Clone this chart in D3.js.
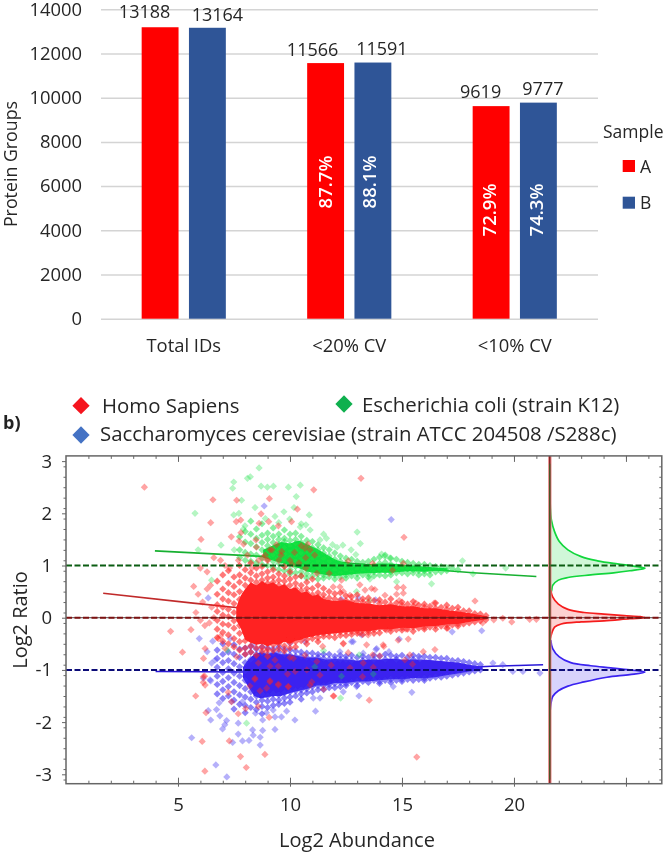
<!DOCTYPE html>
<html><head><meta charset="utf-8">
<script src="https://cdn.jsdelivr.net/npm/d3@7"></script>
<style>html,body{margin:0;padding:0;background:#fff}svg{display:block;filter:blur(.35px)}text{font-family:"Open Sans",sans-serif}</style>
</head><body><div id="c"></div>
<script>
// ---- Panel a: bars
const categories = ["Total IDs","<20% CV","<10% CV"];
const samples = ["A","B"];
const sampleA = [13188,11566,9619];
const sampleB = [13164,11591,9777];
const percentA = [null,"87.7%","72.9%"];
const percentB = [null,"88.1%","74.3%"];
const barTicks = [0,2000,4000,6000,8000,10000,12000,14000];

// ---- Panel b: points [log2 abundance, log2 ratio]
const greenPoints = [[8.62,2.87],[7.49,2.6],[7.44,2.48],[8.1,2.67],[8.23,2.7],[8.71,2.52],[8.99,2.5],[9.26,2.52],[9.93,2.5],[10.46,2.54],[7.84,2.25],[10.28,2.32],[5.76,2],[7.49,1.97],[7.72,2],[8.44,2.11],[9.33,1.94],[9.73,2.03],[10.18,2.11],[10.86,1.97],[9.99,1.89],[10.46,1.74],[10.71,1.78],[7.99,1.76],[7.92,1.7],[6.92,1.39],[7.51,1.3],
[13,1.64],[12.36,1.39],[13.14,1.42],[12.73,1.3],[12.94,1.21],[14.09,1.22],[14.24,1.17],[14.46,1.14],[13.57,.74],[14.76,.69],[16.32,.65],[12.97,.5],[13.54,.33],[11.34,1.49],[11.63,1.52],[17.7,1.09],[18.17,.84],[19.63,.95],[6.5,.72],[5.9,1.3],
[8.9,1.9],[9.5,1.82],[10.5,1.8],[10.9,1.68],[11.5,1.6],[11.9,1.4],[12.1,1.35],
[11.11,-.94],[12.3,-1.12],[13.72,-1.08],[12.26,-1.54],[13.09,-.71],[11.5,-.63],[8.06,-2.02],[7.2,-.62],[10.9,.25]];
// dense parts of each cloud, column by column: [log2 abundance, [log2 ratios]]
const greenColumns = [[7.75,[1.55,1.3,1.15]],[8,[1.65,1.45,1.25,1.1]],[8.25,[1.85,1.6,1.42,1.22,1.08]],[8.5,[1.7,1.52,1.36,1.2,1.05]],[8.75,[1.8,1.58,1.44,1.3,1.14,1.02]],[9,[1.62,1.5,1.38,1.26,1.12,1]],[9.25,[1.72,1.56,1.44,1.32,1.2,1.08,.96]],[9.5,[1.6,1.5,1.4,1.3,1.18,1.04,.92]],[9.75,[1.68,1.52,1.46,1.34,1.22,1.1,1,.9]],[10,[1.6,1.48,1.38,1.28,1.16,1.04,.92,.84]],[10.25,[1.62,1.5,1.42,1.3,1.2,1.1,.98,.86]],[10.5,[1.56,1.44,1.34,1.24,1.12,1,.88,.8]],[10.75,[1.48,1.38,1.28,1.16,1.06,.94,.84,.76]],[11,[1.46,1.34,1.24,1.14,1.02,.9,.8]],[11.25,[1.4,1.3,1.18,1.08,.96,.84,.74]],[11.5,[1.34,1.24,1.14,1.02,.9,.82,.76]],[11.75,[1.3,1.18,1.08,.98,.88,.78]],[12,[1.24,1.12,1.02,.92,.82,.74]],[12.25,[1.18,1.08,.96,.86,.78]],[12.5,[1.14,1.04,.92,.82,.76]],[12.75,[1.12,.98,.88,.8]],[13,[1.08,.94,.84,.76]],[13.25,[1.06,.92,.82]],[13.5,[1.08,.96,.84,.78]],[13.75,[1.12,1,.88,.8]],[14,[1.16,1.04,.92,.82]],[14.25,[1.2,1.06,.9,.8]],[14.5,[1.14,1.02,.88,.82]],[14.75,[1.12,.98,.86]],[15,[1.08,.96,.86]],[15.25,[1.06,.94,.84]],[15.5,[1.04,.92,.86]],[15.75,[1.02,.9,.82]],[16,[1.02,.9,.84]],[16.25,[1,.9,.82]],[16.5,[.98,.88]],[16.75,[.98,.88]],[17,[.96,.9]],[17.25,[.94]],[17.5,[.92]]];

const bluePoints = [[5.61,-2.3],[6.69,-2.82],[7.18,-3.05],[6.35,-1.78],[6.46,-1.96],[6.84,-1.63],[6.72,-1.76],[6.87,-1.88],[7.39,-1.61],[7.17,-1.97],[7.09,-2.05],[6.99,-2.13],[7.44,-2.39],[7.88,-2.36],[8.17,-2.35],[7.69,-2.23],[7.69,-2.02],[7.87,-1.61],[8.33,-2.15],[8.78,-2.16],[8.36,-2.25],[8.67,-2.29],[8.67,-2.44],[9.33,-2.14],[8.78,-1.96],[8.46,-1.83],[8.95,-1.82],[9.33,-1.9],[9.62,-1.9],[9.85,-1.79],[10.22,-1.96],[9.25,-1.77],[6.46,-1.21],[6.13,-1.16],[6.5,-.87],
[6.55,-.45],[7.33,-.4],[6.66,-.81],[6.43,-1.19],[8.37,-.52],[9.11,-.46],[10,-.49],[10.67,-.46],[5.95,-.4],[8.85,2.14],[6.35,.38],[6.3,-.65],
[12.82,-.46],[13.84,-.61],[14.42,-.65],[13.27,-.68],[15.8,-.78],[12.23,-.65],[14.61,-1.32],[15.44,-1.43],[13.08,-1.5],[11.14,-1.79],[12.97,-1.32],[12.38,-1.42],[11.34,-1.54],[11.04,-1.54],[12.3,.35],[13.05,.38],[13.82,.34],[12.75,-.46],[14.88,-.41],[13.2,-.33],[13.87,-.59],[14.52,1.88],[17.24,-.27],[18.56,-.25],[19.06,-.87],[19.95,-1.03],[21.16,-1.06],[20.4,-1.03],[19.5,-.9]];
const blueColumns = [[6.75,[-.62,-.78,-.95,-1.12,-1.28,-1.46]],[7,[-.5,-.7,-.86,-1.05,-1.22,-1.38,-1.55]],[7.25,[-.66,-.82,-.98,-1.15,-1.32,-1.5]],[7.5,[-.52,-.7,-.88,-1.06,-1.24,-1.42,-1.58,-1.75]],[7.75,[-.6,-.76,-.94,-1.12,-1.3,-1.48,-1.66]],[8,[-.58,-.7,-.86,-1.02,-1.2,-1.36,-1.52,-1.68,-1.82]],[8.25,[-.55,-.66,-.8,-1.42,-1.56,-1.72]],[8.5,[-.6,-.7,-1.5,-1.62,-1.76]],[8.75,[-.56,-.68,-1.46,-1.58,-1.7,-1.84]],[9,[-.58,-.7,-1.5,-1.6,-1.72]],[9.25,[-.6,-.68,-1.46,-1.56,-1.68]],[9.5,[-.56,-.66,-1.48,-1.58,-1.66]],[9.75,[-.6,-.7,-1.44,-1.54,-1.64]],[10,[-.62,-.72,-1.42,-1.52,-1.62]],[10.25,[-.64,-.74,-1.4,-1.5]],[10.5,[-.66,-.74,-1.38,-1.46,-1.56]],[10.75,[-.68,-.76,-1.36,-1.44]],[11,[-.68,-.78,-1.32,-1.42]],[11.25,[-.7,-.76,-1.3,-1.38]],[11.5,[-.7,-.78,-1.3,-1.38]],[11.75,[-.7,-.8,-1.28,-1.34]],[12,[-.74,-.8,-1.26,-1.34]],[12.25,[-.72,-.8,-1.24,-1.32]],[12.5,[-.74,-.8,-1.26,-1.3]],[12.75,[-.72,-.82,-1.24]],[13,[-.76,-1.22,-1.3]],[13.25,[-.74,-.82,-1.22]],[13.5,[-.76,-1.24]],[13.75,[-.72,-.8,-1.2]],[14,[-.74,-1.22,-1.26]],[14.25,[-.7,-.8,-1.2]],[14.5,[-.72,-1.18,-1.24]],[14.75,[-.74,-.8,-1.2]],[15,[-.72,-1.18,-1.22]],[15.25,[-.76,-1.18]],[15.5,[-.72,-.8,-1.2]],[15.75,[-.74,-1.18]],[16,[-.74,-1.16,-1.2]],[16.25,[-.76,-1.16]],[16.5,[-.76,-1.14]],[16.75,[-.78,-1.14]],[17,[-.78,-1.12]],[17.25,[-.82,-1.1]],[17.5,[-.82,-1.08]],[17.75,[-.84,-1.06]],[18,[-.86,-1.04]],[18.25,[-.88,-1.02]],[18.5,[-.9,-1]]];

const redPoints = [[6.56,2.26],[7.62,2.25],[9.08,2.28],[11.06,2.45],[6.46,1.82],[6.03,1.5],[8.71,1.99],[7.8,1.87],[7.6,1.84],[7.81,1.63],[7.38,1.55],[7.72,1.47],[7.93,1.41],[8.62,1.81],[9.05,1.84],[9.48,1.76],[10.07,1.84],[10.33,2.08],[10.8,1.41],[10.67,1.33],[8.48,1.49],[9.11,1.3],[9.63,1.27],[3.5,2.5],[13.17,2.67],[15.09,1.54],[15.66,-2.67],[18.26,.32],[17.05,-.2],
[4.67,-.26],[5.58,-.23],[5.2,-.66],[5.79,-1.5],[6.25,-1.82],[6.08,-2.37],[7.29,-2.36],[7.79,-2.66],[8.88,-2.62],[8.05,-2.87],[6.2,-2.94],[7.39,-1.61],[7.69,-1.84],[8.02,-1.74],[8.58,-1.7],[9.07,-1.91],[6.13,-1.24],[6.19,-1.12],[7.24,-1.43],[8.21,-1.31],[8.66,-1.4],[8.96,-1.35],[9.48,-1.27],[9.92,-1.32],[9.1,-1.23],[8.43,-1.18],[11.96,-1.5],
[6.14,-.78],[7.1,-.59],[6.8,-.4],[6.21,-.59],[7.62,-.75],[8.96,-.65],[9.33,-.81],[10,-.76],[10.15,-.78],[10.67,-.72],[8.59,-.87],[9.11,-.93],[9.48,-.93],[10.75,-1],[11.2,-.84],[8.44,-1.16],[9.11,-1.21],[9.89,-1.08],[10.23,-1.03],[6.13,-1.13],[6.21,-1.29],[9.48,-1.29],[10.9,-1.29],[9.93,-1.32],
[13.42,-.52],[12.38,-.5],[11.46,-.55],[14.19,-.55],[15.95,-.65],[16.47,-.61],[13.69,-.71],[14.01,-.73],[12.6,-.67],[15.35,-.71],[15.13,-.81],[11.84,-.91],[11.34,-1.1],[12.68,-.96],[13.27,-.87],[13.72,-.95],[13.24,-1.13],[15.47,-.89],[11.5,-1.37],[11.93,-1.5],[13.54,-1.58],[10.97,-1.23],
[12.6,1.09],[13.69,1.04],[14.58,.91],[15.06,1.04],[11.75,.85],[13.12,.63],[13.35,.53],[13.64,.56],[13.79,.54],[14.24,.43],[14.79,.58],[15.06,.58],[14.76,.45],[15.06,.47],[14.88,.33],[15.62,.28],[16.44,.28],[16.22,.15],[12.3,.72],[12.23,.59],[12.38,.5],[11.93,.59],[12.68,.43],[14.31,-.24],[15.18,-.22],[12.38,-.49],[14.16,-.52],[15.28,-.41],[14.83,-.43],[13.12,-.3],[13.49,-.33],
[18.6,-.1],[19.5,-.01],[19.9,-.08],[20.7,-.03],[21,-.03],[19.1,-.04],
[6,.95],[6.3,.88],[6.6,1.15],[6.9,1.1],[7.1,1],[7.3,.95],[7.7,1.1],[8.1,1.2],[8.3,.95],[8.9,1.2],[9.5,1.1],[10.1,1.02],[10.7,.95],[11.2,.85],
[5.7,.6],[5.9,.45],[6.1,.3],[6.3,.55],[6.5,.2],[5.8,.1],[6,-.05],[6.2,-.15],[6.4,-.1],[6.6,0],[6.45,.62],[6.9,-.35],
[8.5,1.35],[8.8,1.15],[9.2,1.3],[9.6,1.2],[10,1.1],[10.2,1.25],[10.5,1.38],[10.7,1.15],[10.9,1.3],[11.1,1.2],[9.4,1.4],[8.6,1.1],[10.4,1.05]];
const redColumns = [[6.75,[.7,.45,.25,.12,-.05,-.22,-.38]],[7,[.82,.55,.36,.2,.05,-.12,-.28,-.45]],[7.25,[.9,.66,.48,.32,.16,.02,-.14,-.33,-.5]],[7.5,[.78,.6,.44,.27,.1,-.06,-.2,-.4,-.56]],[7.75,[1,.82,.68,.5,.35,.2,.02,-.15,-.3,-.46,-.62]],[8,[.92,.76,.62,.46,.3,.1,-.1,-.28,-.44,-.58,-.7]],[8.25,[1.05,.86,.72,.6,-.42,-.54,-.66]],[8.5,[.95,.8,.68,-.46,-.58,-.72]],[8.75,[.98,.84,.72,.64,-.45,-.56,-.64]],[9,[1.1,.88,.76,.66,-.44,-.6,-.74]],[9.25,[.92,.78,.68,-.42,-.52,-.63]],[9.5,[.84,.72,.62,-.42,-.5,-.6]],[9.75,[.98,.8,.7,.6,-.4,-.54,-.64]],[10,[.88,.74,.62,-.4,-.48,-.58]],[10.25,[.78,.66,.56,-.36,-.46,-.56]],[10.5,[.8,.62,.52,-.34,-.44]],[10.75,[.68,.56,.48,-.34,-.42,-.5]],[11,[.74,.56,.44,-.32,-.4]],[11.25,[.62,.48,.4,-.3,-.38,-.46]],[11.5,[.56,.44,.36,-.3,-.36]],[11.75,[.5,.38,-.28,-.36]],[12,[.46,.36,-.28,-.38]],[12.25,[.48,.34,-.27,-.34]],[12.5,[.42,.33,-.26,-.34]],[12.75,[.4,.31,-.26,-.32]],[13,[.44,.32,-.25,-.3]],[13.25,[.36,.3,-.24,-.32]],[13.5,[.38,.29,-.24,-.28]],[13.75,[.33,-.23,-.3]],[14,[.34,.27,-.2,-.29]],[14.25,[.3,-.22]],[14.5,[.36,.25,-.2,-.26]],[14.75,[.28,-.23]],[15,[.3,.24,-.19,-.24]],[15.25,[.26,-.22]],[15.5,[.31,.22,-.18,-.26]],[15.75,[.24,-.2]],[16,[.26,.2,-.18,-.22]],[16.25,[.22,-.18]],[16.5,[.28,.18,-.15,-.22]],[16.75,[.2,-.16]],[17,[.24,.16,-.14,-.2]],[17.25,[.18,-.14]],[17.5,[.2,.12,-.12,-.16]],[17.75,[.13,-.12]],[18,[.13,-.1]],[18.25,[.08,-.08]],[18.5,[.07,-.06]],[18.75,[.04,-.04]]];

// solid cores as read envelopes: [log2 abundance, upper ratio, lower ratio]
const greenCore = [[8.8,1.3,1.15],[9.2,1.38,1.1],[9.6,1.45,1.05],[10,1.42,1],[10.4,1.48,.95],[10.8,1.4,.88],[11.2,1.32,.85],[11.6,1.22,.82],[12,1.12,.8],[12.5,1.04,.82],[13,1.02,.84],[13.5,1.02,.85],[14,1.04,.86],[14.5,1.04,.86],[15,1.02,.88],[15.5,1,.89],[16,.98,.88],[16.5,.96,.9],[17,.95,.9]];
const redCore = [[7.6,.2,-.05],[7.8,.42,-.2],[8,.55,-.42],[8.25,.68,-.48],[8.5,.62,-.52],[8.75,.7,-.5],[9,.64,-.55],[9.25,.68,-.5],[9.5,.6,-.52],[9.75,.64,-.46],[10,.55,-.5],[10.25,.58,-.44],[10.5,.48,-.42],[10.75,.5,-.38],[11,.42,-.36],[11.25,.44,-.33],[11.5,.36,-.32],[12,.32,-.3],[12.5,.34,-.28],[13,.28,-.26],[13.5,.27,-.26],[14,.24,-.22],[14.5,.26,-.22],[15,.22,-.19],[15.5,.22,-.2],[16,.18,-.17],[16.5,.18,-.16],[17,.15,-.13],[17.5,.12,-.12],[18,.09,-.08],[18.8,.03,-.03]];
const blueCore = [[7.9,-.95,-1.15],[8.1,-.82,-1.3],[8.4,-.7,-1.5],[8.7,-.66,-1.55],[9,-.7,-1.52],[9.3,-.66,-1.5],[9.6,-.7,-1.5],[10,-.7,-1.44],[10.4,-.74,-1.4],[10.8,-.76,-1.36],[11.2,-.76,-1.3],[11.6,-.8,-1.3],[12,-.79,-1.25],[12.5,-.8,-1.25],[13,-.82,-1.22],[13.5,-.8,-1.22],[14,-.8,-1.2],[14.5,-.78,-1.18],[15,-.8,-1.18],[15.5,-.8,-1.16],[16,-.8,-1.16],[16.5,-.82,-1.14],[17,-.84,-1.1],[17.5,-.86,-1.07],[18,-.9,-1.03],[18.6,-.94,-1]];

// trend lines
const greenTrend = [[3.97,1.28],[8.97,1.17],[14,1],[18.17,.86],[21,.79]];
const redTrend = [[1.66,.47],[5.67,.28],[7.9,.18]];
const blueTrend = [[4,-1.03],[8,-1.04],[16,-.98],[18,-.95],[19,-.93],[21.3,-.9]];

// marginal densities: [density 0..1, log2 ratio]
const greenDensity = [[0,2.6],[.005,2.13],[.017,1.87],[.05,1.65],[.1,1.46],[.19,1.3],[.33,1.17],[.5,1.09],[.71,1.03],[.88,.99],[1,.95],[.84,.9],[.67,.86],[.43,.82],[.19,.77],[.09,.72],[.03,.62],[.02,.53],[0,.4]];
const redDensity = [[.01,.53],[.03,.4],[.09,.26],[.19,.16],[.36,.1],[.57,.07],[.78,.04],[.95,.02],[1,0],[.84,-.02],[.57,-.06],[.33,-.08],[.12,-.12],[.05,-.18],[.02,-.3],[0,-.43]];
const blueDensity = [[.01,-.43],[.03,-.59],[.1,-.75],[.22,-.86],[.43,-.92],[.64,-.96],[.84,-1],[1,-1.04],[.84,-1.09],[.6,-1.14],[.36,-1.23],[.19,-1.31],[.09,-1.4],[.03,-1.51],[.01,-1.67],[0,-1.9]];

const referenceRatios = [1,0,-1];
const xLabelled = [5,10,15,20,25];
const yLabelled = [-3,-2,-1,0,1,2,3];
const xMinor = d3.range(1,27);
const yMinor = d3.range(-31,31,2).map(d=>d/10);
const speciesNames = ["Homo Sapiens","Escherichia coli (strain K12)","Saccharomyces cerevisiae (strain ATCC 204508 /S288c)"];

const svg = d3.select("#c").append("svg").attr("width",666).attr("height",852);
const txt = "#262626";
const defs = svg.append("defs");
defs.append("filter").attr("id","soft").attr("x","-5%").attr("y","-5%").attr("width","110%").attr("height","110%")
  .append("feGaussianBlur").attr("stdDeviation",0.6);

// ---- bars
const y0 = d3.scaleLinear().domain([0,14000]).range([318.7,9.3]);
const x0 = d3.scaleBand().domain(categories).range([101,597.5]);
const x1 = d3.scaleBand().domain(samples).range([0,x0.bandwidth()]).paddingInner(.22).paddingOuter(.86);
const barColor = d3.scaleOrdinal().domain(samples).range(["#ff0000","#2f5597"]);

const grid = svg.append("g").attr("transform","translate(101,0)")
  .call(d3.axisLeft(y0).tickValues(barTicks).tickSize(-497).tickFormat(""));
grid.select(".domain").remove();
grid.selectAll("line").attr("stroke","#d4d4d4").attr("stroke-width",1.5);

const yAx = svg.append("g").attr("transform","translate(82,0)")
  .call(d3.axisLeft(y0).tickValues(barTicks).tickSize(0).tickPadding(0).tickFormat(d3.format("d")));
yAx.select(".domain").remove();
yAx.selectAll("text").attr("font-size",18.4).attr("fill",txt).attr("font-family","Open Sans");

const xAx = svg.append("g").attr("transform","translate(0,339)")
  .call(d3.axisBottom(x0).tickSize(0).tickPadding(0));
xAx.select(".domain").remove();
xAx.selectAll("text").attr("font-size",18.4).attr("fill",txt).attr("font-family","Open Sans");

svg.append("text").attr("transform","translate(17,164) rotate(-90)").attr("text-anchor","middle")
  .attr("font-size",17.8).attr("fill",txt).text("Protein Groups");

const bars = [];
categories.forEach((c,i)=>{
  bars.push({c,s:"A",v:sampleA[i],p:percentA[i]});
  bars.push({c,s:"B",v:sampleB[i],p:percentB[i]});
});
svg.selectAll("rect.bar").data(bars).enter().append("rect").attr("class","bar")
  .attr("x",d=>x0(d.c)+x1(d.s)).attr("width",x1.bandwidth())
  .attr("y",d=>y0(d.v)).attr("height",d=>y0(0)-y0(d.v)).attr("fill",d=>barColor(d.s));

const labelShift = [[-15.5,-1],[10,1],[-13,0.5],[9,0],[-10.5,0],[4.5,0.5]];   // layout: hand-placed labels
svg.selectAll("text.val").data(bars).enter().append("text").attr("class","val")
  .attr("x",(d,i)=>x0(d.c)+x1(d.s)+x1.bandwidth()/2+labelShift[i][0])
  .attr("y",(d,i)=>y0(d.v)-8+labelShift[i][1])
  .attr("text-anchor","middle").attr("font-size",18).attr("fill",txt).text(d=>d.v);

const pctShift = [0,0,0,-3.5,-2,-2];
svg.selectAll("text.pct").data(bars).enter().filter(d=>d.p).append("text").attr("class","pct")
  .attr("transform",d=>{
    const i = bars.indexOf(d);
    const cx = x0(d.c)+x1(d.s)+x1.bandwidth()/2+pctShift[i];
    return `translate(${cx},${d.c==="<20% CV"?182:210}) rotate(-90)`;})
  .attr("text-anchor","middle").attr("dy","0.36em").attr("font-size",18.5).attr("font-weight",600)
  .attr("fill","#fff").text(d=>d.p);

svg.append("text").attr("x",603).attr("y",138).attr("font-size",17.5).attr("fill",txt).text("Sample");
samples.forEach((s,i)=>{
  svg.append("rect").attr("x",622.7).attr("y",160+i*36.7).attr("width",12.3).attr("height",12).attr("fill",barColor(s));
  svg.append("text").attr("x",640).attr("y",172.5+i*36.2).attr("font-size",17.5).attr("fill",txt).text(s);
});

// ---- scatter panel
const x = d3.scaleLinear().domain([0,26.6]).range([66,661.8]);
const y = d3.scaleLinear().domain([-3.18,3.1]).range([783.7,455.9]);
const dens = d3.scaleLinear().domain([0,1]).range([x(21.6),x(25.85)]);
const W = x.range()[1]-x.range()[0], H = y.range()[0]-y.range()[1];

const band = d3.area().x(d=>x(d[0])).y0(d=>y(d[2])).y1(d=>y(d[1])).curve(d3.curveLinear);
const diamond = d3.symbol().type(d3.symbolDiamond2).size(33)();
const scatter = svg.append("g").attr("filter","url(#soft)");
const tLine = d3.line().x(d=>x(d[0])).y(d=>y(d[1]));
[[greenTrend,"#18b030"],[redTrend,"#c02a2a"],[blueTrend,"#2a18d8"]].forEach(([t,c])=>{
  scatter.append("path").datum(t).attr("d",tLine).attr("fill","none").attr("stroke",c).attr("stroke-width",1.6);
});

const COL = {r:"#ff2222",g:"#12e040",b:"#3a22f0"};
const unroll = cols => cols.flatMap(([a,rs])=>rs.map(r=>[a,r]));
function pts(list,color,op){
  scatter.append("g").selectAll("path").data(list).enter().append("path")
    .attr("d",diamond).attr("transform",d=>`translate(${x(d[0])},${y(d[1])})`)
    .attr("fill",color).attr("opacity",op);
}
scatter.append("path").datum(blueCore).attr("d",band).attr("fill",COL.b);
pts(unroll(blueColumns),"#3f30f2",.6);
pts(bluePoints,"#5a50f5",.45);
scatter.append("path").datum(greenCore).attr("d",band).attr("fill",COL.g);
pts(unroll(greenColumns),COL.g,.5);
pts(greenPoints,COL.g,.32);
scatter.append("path").datum(redCore).attr("d",band).attr("fill",COL.r);
pts(unroll(redColumns),COL.r,.6);
pts(redPoints,COL.r,.42);

// marginal densities
const dLine = d3.line().x(d=>dens(d[0])).y(d=>y(d[1])).curve(d3.curveCatmullRom);
const dAreaC = d3.area().x0(dens(0)).x1(d=>dens(d[0])).y(d=>y(d[1])).curve(d3.curveCatmullRom);
const marg = svg.append("g");
[[greenDensity,"#12d63c"],[redDensity,"#f51c1c"],[blueDensity,"#3a22f0"]].forEach(([dd,c])=>{
  marg.append("path").datum(dd).attr("d",dAreaC).attr("fill",c).attr("opacity",.2);
  marg.append("path").datum(dd).attr("d",dLine).attr("fill","none").attr("stroke",c).attr("stroke-width",1.7);
});

// vertical divider
const vx = x(21.6);
svg.append("line").attr("x1",vx).attr("x2",vx).attr("y1",y.range()[1]).attr("y2",y.range()[0]).attr("stroke","#e88a8a").attr("stroke-width",3.4);
svg.append("line").attr("x1",vx).attr("x2",vx).attr("y1",y.range()[1]).attr("y2",y.range()[0]).attr("stroke","#7a1a1a").attr("stroke-width",1.4);
svg.append("line").attr("x1",vx).attr("x2",vx).attr("y1",y(2.95)).attr("y2",y(-3.1)).attr("stroke","#1c7a28").attr("stroke-width",.8);

// dashed reference lines
const refColors = ["#0b5d12","#7c1111","#0c0c78"];
svg.append("line").attr("x1",x(0)).attr("x2",x.range()[1]).attr("y1",y(0)).attr("y2",y(0)).attr("stroke","#403030").attr("stroke-width",.9);
svg.selectAll("line.ref").data(referenceRatios).enter().append("line").attr("class","ref")
  .attr("x1",x(0)).attr("x2",x.range()[1]).attr("y1",d=>y(d)).attr("y2",d=>y(d))
  .attr("stroke",(d,i)=>refColors[i]).attr("stroke-width",2).attr("stroke-dasharray","6,2.5");

// frame and ticks
const axisGrey = "#666";
function clean(g){g.select(".domain").remove();g.selectAll("line").attr("stroke",axisGrey).attr("stroke-width",1);g.selectAll("text").remove();}
const yb = y.range()[0], yt = y.range()[1], xl = x.range()[0], xr = x.range()[1];
svg.append("g").attr("transform",`translate(0,${yb})`).call(d3.axisTop(x).tickValues(xMinor).tickSize(3).tickFormat("")).call(clean);
svg.append("g").attr("transform",`translate(0,${yt})`).call(d3.axisBottom(x).tickValues(xMinor).tickSize(3).tickFormat("")).call(clean);
svg.append("g").attr("transform",`translate(${xl},0)`).call(d3.axisLeft(y).tickValues(yMinor).tickSize(2.5).tickFormat("")).call(clean);
svg.append("g").attr("transform",`translate(${xr},0)`).call(d3.axisLeft(y).tickValues(yMinor).tickSize(2.5).tickFormat("")).call(clean);
svg.append("g").attr("transform",`translate(0,${yb})`).call(d3.axisTop(x).tickValues(xLabelled).tickSize(6).tickFormat("")).call(clean);
svg.append("g").attr("transform",`translate(0,${yb})`).call(d3.axisBottom(x).tickValues(xLabelled).tickSize(3).tickFormat("")).call(clean);
svg.append("g").attr("transform",`translate(0,${yt})`).call(d3.axisBottom(x).tickValues(xLabelled).tickSize(6).tickFormat("")).call(clean);
svg.append("g").attr("transform",`translate(${xl},0)`).call(d3.axisLeft(y).tickValues(yLabelled).tickSize(4).tickFormat("")).call(clean);
svg.append("rect").attr("x",xl).attr("y",yt).attr("width",W).attr("height",H).attr("fill","none").attr("stroke",axisGrey).attr("stroke-width",1.5);

const hyphenInt = d => String(d);
const xLab = svg.append("g").attr("transform","translate(0,798)")
  .call(d3.axisBottom(x).tickValues(xLabelled.slice(0,4)).tickSize(0).tickPadding(0).tickFormat(hyphenInt));
xLab.select(".domain").remove();
xLab.selectAll("text").attr("font-size",18.5).attr("fill",txt).attr("font-family","Open Sans");
const yLab = svg.append("g").attr("transform","translate(52,0)")
  .call(d3.axisLeft(y).tickValues(yLabelled).tickSize(0).tickPadding(0).tickFormat(hyphenInt));
yLab.select(".domain").remove();
yLab.selectAll("text").attr("font-size",18.5).attr("fill",txt).attr("font-family","Open Sans");

svg.append("text").attr("x",357).attr("y",847).attr("text-anchor","middle").attr("font-size",20).attr("fill",txt).text("Log2 Abundance");
svg.append("text").attr("transform","translate(27,620) rotate(-90)").attr("text-anchor","middle").attr("font-size",20).attr("fill",txt).text("Log2 Ratio");

// legend
const legendColors = ["#f5141e","#0fb04e","#4472c4"];
const legendPos = [[81,405.7,102,412.5],[344,404,362,411.7],[81,435,100,440.7]];
speciesNames.forEach((n,i)=>{
  const p = legendPos[i];
  svg.append("path").attr("d",d3.symbol().type(d3.symbolDiamond2).size(190)())
    .attr("transform",`translate(${p[0]},${p[1]})`).attr("fill",legendColors[i]);
  svg.append("text").attr("x",p[2]).attr("y",p[3]).attr("font-size",20.4).attr("fill",txt).text(n);
});
svg.append("text").attr("x",3).attr("y",429).attr("font-size",18).attr("font-weight",700).attr("fill","#222").text("b)");
</script></body></html>
